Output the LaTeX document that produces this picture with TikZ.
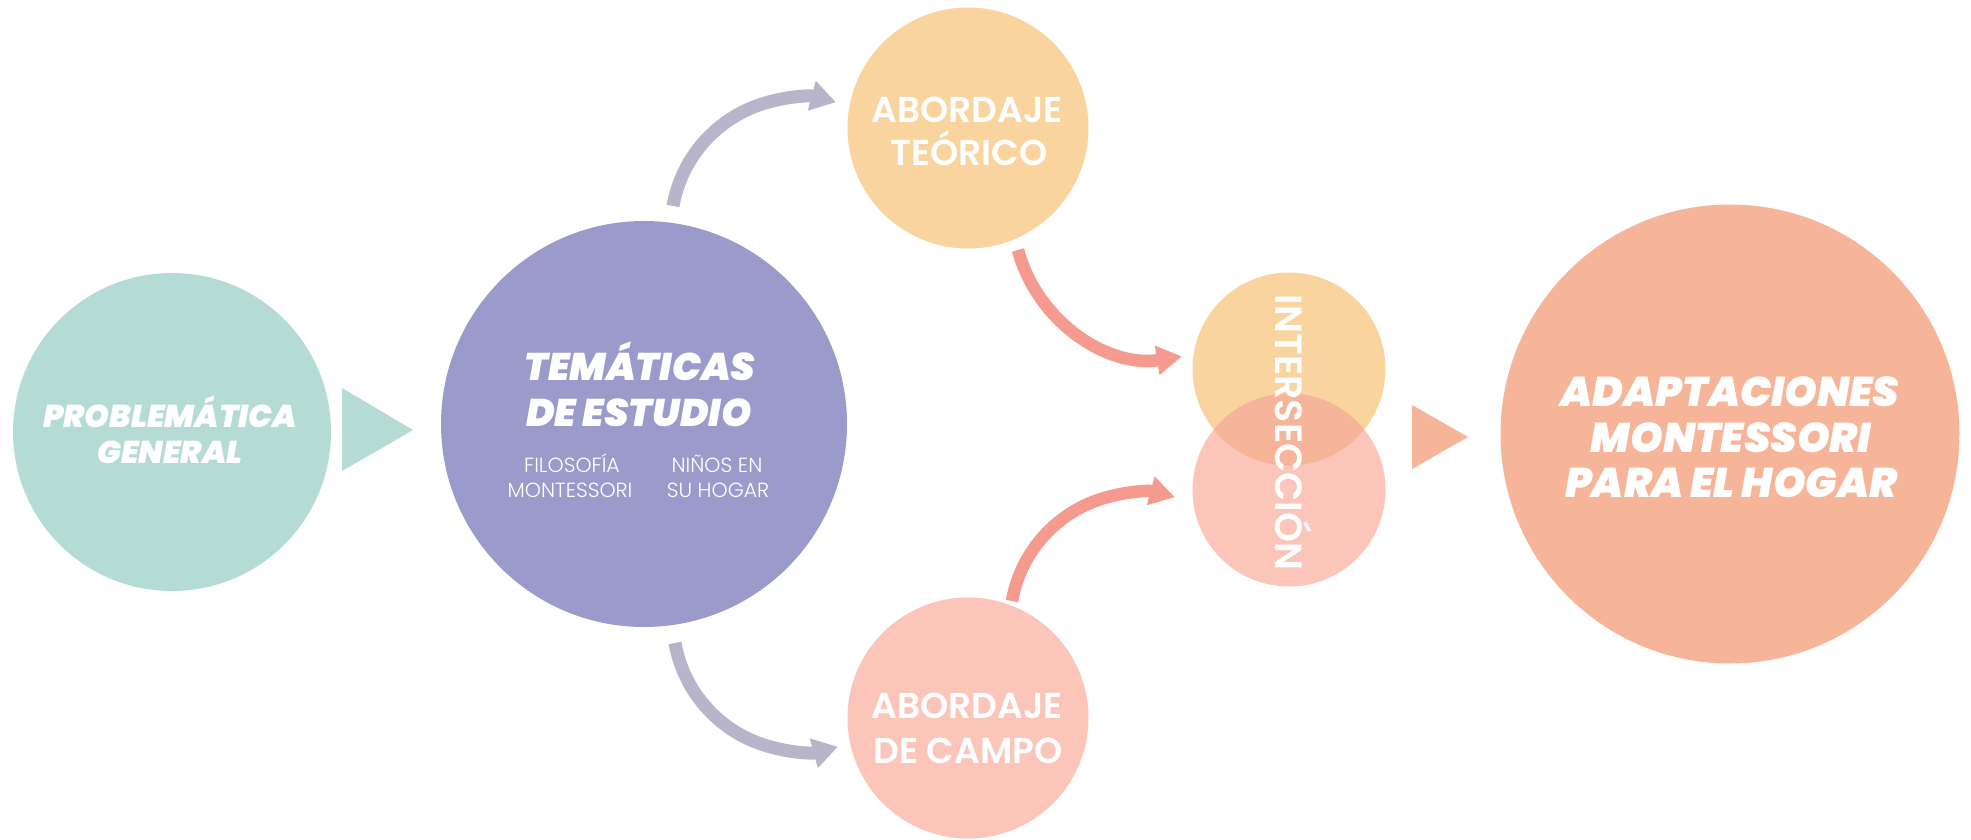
\documentclass[tikz,border=0pt]{standalone}
\usepackage{fontspec}
\setmainfont{Poppins}
\newfontfamily\heavyf{Poppins Black Italic}
\newfontfamily\medf{Poppins SemiBold}
\newfontfamily\lightf{Poppins Light}
\usetikzlibrary{arrows.meta}
\definecolor{cteal}{HTML}{B5DCD4}
\definecolor{cpurple}{HTML}{9B9BCB}
\definecolor{cyellow}{HTML}{FAD49E}
\definecolor{cpink}{HTML}{FBC5BA}
\definecolor{csalmon}{HTML}{F6B498}
\definecolor{cgrey}{HTML}{B8B5CB}
\definecolor{cparrow}{HTML}{F59A8E}
\tikzset{
  blob/.style={circle, inner sep=0pt, draw=none},
  heavytxt/.style={text=white, inner sep=0pt, anchor=base, font=\heavyf\fontsize{#1}{#1}\selectfont},
  medtxt/.style={text=white, inner sep=0pt, anchor=base, font=\medf\fontsize{#1}{#1}\selectfont},
  lighttxt/.style={text=white, inner sep=0pt, anchor=base, font=\lightf\fontsize{#1}{#1}\selectfont},
  garrow/.style={draw=cgrey, line width=13pt, -{Triangle[length=25pt,width=29pt]}},
  parrow/.style={draw=cparrow, line width=12.5pt, -{Triangle[length=25pt,width=28pt]}},
}
\begin{document}
\begin{tikzpicture}[x=1pt,y=1pt]
\useasboundingbox (0,0) rectangle (1971,-839);
\fill[white] (0,0) rectangle (1971,-839);

% circles
\node[blob, fill=cteal, minimum size=318pt] (prob) at (172,-432) {};
\node[blob, fill=cpurple, minimum size=406pt] (tema) at (644,-424) {};
\node[blob, fill=cyellow, minimum size=241pt] (teo) at (968,-128) {};
\node[blob, fill=cpink, minimum size=241pt] (campo) at (968,-718) {};
\node[blob, fill=cyellow, minimum size=193pt] (intA) at (1289,-369) {};
\node[blob, fill=cpink, minimum size=193pt] (intB) at (1289,-490) {};
\begin{scope}
  \clip (1289,-369) circle[radius=96.5];
  \fill[csalmon] (1289,-490) circle[radius=96.5];
\end{scope}
\node[blob, fill=csalmon, minimum size=459pt] (adapt) at (1730,-434) {};

% triangles
\fill[cteal] (342,-388) -- (342,-471) -- (413,-430) -- cycle;
\fill[csalmon] (1412,-405) -- (1412,-469) -- (1468,-437) -- cycle;

% arrows
\coordinate (g1s) at (673,-206);
\draw[garrow] (g1s) arc[start angle=170, end angle=75, radius=131];
\coordinate (g2s) at (675,-643);
\draw[garrow] (g2s) arc[start angle=190, end angle=285, radius=131];
\coordinate (p1s) at (1018,-250);
\draw[parrow] (p1s) arc[start angle=195, end angle=279, radius=146];
\coordinate (p2s) at (1012,-601);
\draw[parrow] (p2s) arc[start angle=170, end angle=75, radius=131];

% texts
\node[heavytxt=31.5] (probA) at (170,-427) {PROBLEMÁTICA};
\node[heavytxt=31.5] (probB) at (170,-463) {GENERAL};

\node[heavytxt=38.5] (temaA) at (640,-380) {TEMÁTICAS};
\node[heavytxt=38.5] (temaB) at (639,-426) {DE\,ESTUDIO};
\node[lighttxt=20.5] (filA) at (572,-472) {FILOSOFÍA};
\node[lighttxt=20.5] (filB) at (570,-497) {MONTESSORI};
\node[lighttxt=20.5] (ninA) at (717,-472) {NIÑOS EN};
\node[lighttxt=20.5] (ninB) at (718,-497) {SU HOGAR};

\node[medtxt=36] (teoA) at (967,-122) {ABORDAJE};
\node[medtxt=36] (teoB) at (969,-165) {TEÓRICO};
\node[medtxt=36] (campoA) at (967,-718) {ABORDAJE};
\node[medtxt=36] (campoB) at (968,-763) {DE CAMPO};

\node[medtxt=38, rotate=-90] (inter) at (1275,-432.5) {INTERSECCIÓN};

\node[heavytxt=41.5] (adA) at (1730,-406) {ADAPTACIONES};
\node[heavytxt=41.5] (adB) at (1731,-452) {MONTESSORI};
\node[heavytxt=41.5] (adC) at (1731,-497) {PARA\,EL\,HOGAR};
\end{tikzpicture}
\end{document}
